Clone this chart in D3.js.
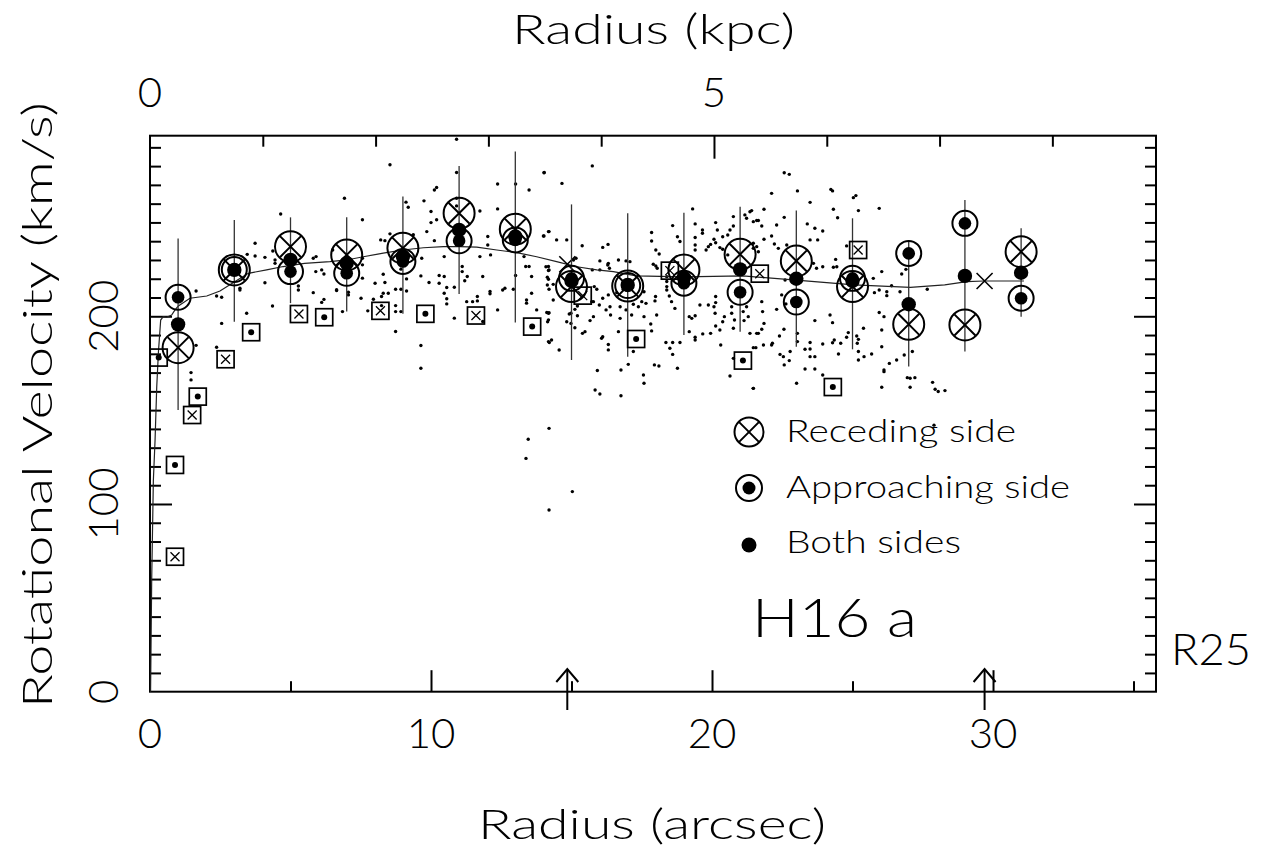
<!DOCTYPE html>
<html>
<head>
<meta charset="utf-8">
<script src="https://cdn.jsdelivr.net/npm/d3@7"></script>
<style>
  body { margin: 0; background: #fff; }
  svg text { font-family: "Lato", "DejaVu Sans", sans-serif; font-weight: 300; fill: #000; }
</style>
</head>
<body>
<svg id="chart" width="1270" height="856"></svg>
<script>
// binned points, every 2 arcsec
const binRadius = [1, 3, 5, 7, 9, 11, 13, 15, 17, 19, 21, 23, 25, 27, 29, 31];
const recedingVel = [183.3, 224.7, 237.1, 232.7, 236.3, 254.9, 246.4, 215.8, 216.1, 224.7, 233.0, 229.5, 215.8, 195.7, 195.4, 234.4];
const approachingVel = [210.1, 224.9, 223.8, 222.9, 229.2, 240.2, 240.7, 220.2, 216.4, 217.6, 212.8, 207.6, 220.2, 233.5, 249.5, 209.6];
const bothVel = [195.7, 224.7, 230.0, 228.3, 231.8, 246.0, 242.5, 218.8, 216.7, 220.6, 225.0, 220.0, 218.8, 206.4, 221.5, 223.2];
const errTop = [241.5, 251.3, 252.7, 252.8, 263.8, 280.1, 287.8, 259.6, 254.9, 255.2, 258.4, 256.3, 252.2, 239.8, 262.0, 246.9];
const errBottom = [150.1, 197.1, 207.0, 202.5, 201.3, 211.9, 196.7, 176.7, 178.5, 190.0, 191.8, 183.8, 182.4, 173.2, 181.2, 199.8];

// boxed points (other dataset)
const boxDot = [[0.31, 178], [0.89, 120.8], [1.7, 157.2], [3.6, 191.5], [6.2, 199.5], [9.8, 201.3],
    [13.6, 194.5], [17.3, 187.9], [21.1, 176.4], [24.3, 162.3]];
const boxCross = [[0.89, 71.9], [1.5, 147.4], [2.69, 177.1], [5.3, 201.2], [8.2, 202.9], [11.6, 200.4],
    [15.4, 211], [18.5, 224.3], [21.7, 222.7], [25.2, 235.3]];

// model curve
const curveR = [0.02, 0.06, 0.12, 0.18, 0.24, 0.30, 0.38, 0.47, 0.59, 0.77, 0.89, 1.01, 1.42, 2.02, 2.49, 2.97,
    3.5, 4.15, 4.74, 5.5, 6.4, 7.0, 7.59, 8.3, 9.0, 9.73, 10.44, 11.03, 11.63, 12.34, 13.05, 13.76, 14.47,
    15.19, 15.9, 16.49, 17.3, 19.0, 21.1, 23.0, 25.05, 27.06, 28.28, 29.07, 29.68, 31.1];
const curveV = [0, 59.5, 112.8, 134, 162.5, 181, 198, 199.8, 199.5, 200.7, 203.4, 205.5, 209.6, 210.8, 213.5, 218,
    222.9, 224.7, 226.5, 228.2, 229.1, 230, 231.7, 233.6, 235.3, 236.5, 237.1, 237.1, 236.8, 235.3, 233.9, 231.7, 229.1,
    226.4, 224.7, 223.8, 221.5, 221, 221.5, 219.3, 216.7, 215.4, 216.7, 218.5, 218.8, 218.8];

// 0.5 R25 and R25 (arcsec), marked with arrows + crosses on the curve
const markR = [14.85, 29.7];
const markV = [227.7, 218.8];

// individual measurements [r, v]
const rawPoints = [
    [3.74,238.9],[3.74,232.1],[3.46,233.0],[4.09,231.4],[4.37,234.8],[4.45,230.0],[4.45,228.2],[1.64,213.5],[2.37,210.8],
    [2.55,210.1],[3.2,214.9],[3.2,214.0],[4.09,217.9],[3.44,201.6],[2.55,196.2],[1.64,184.5],[2.37,183.5],[1.46,170.0],
    [1.46,166.1],[4.36,205.5],[5.28,214.0],[5.28,216.1],[5.81,212.6],[6.11,207.4],[6.19,209.0],[5.9,223.8],[6.11,224.7],
    [6.19,222.5],[5.81,230.9],[5.91,231.8],[6.64,213.7],[6.5,235.3],[4.65,254.5],
    [10.91,294.3],[8.54,280.7],[6.92,262.9],[7.56,251.4],[9.11,260.8],[9.19,258.1],[10.12,267.3],[10.2,268.6],[9.75,261.5],
    [10.0,255.8],[10.2,251.4],[10.0,249.9],[9.85,245.1],[10.91,276.6],[10.91,262.9],[10.91,258.8],[11.74,256.1],[12.37,270.5],
    [12.37,257.2],[13.01,270.5],[13.49,267.3],[14.03,276.6],[12.02,242.5],[12.02,238.0],[12.12,232.7],[11.74,231.8],
    [10.47,231.8],[10.12,240.3],[8.21,240.7],[8.36,240.3],[8.54,243.9],[9.37,243.4],[9.67,230.9],[7.56,230.9],[7.56,227.4],
    [7.56,220.3],[8.3,222.4],[8.01,217.6],[8.36,218.0],[8.93,225.1],[9.13,219.9],[9.64,221.5],[9.93,218.0],[8.93,214.4],
    [8.74,214.4],[9.13,213.5],[10.29,221.7],[10.47,221.2],[10.29,217.6],[10.56,215.3],[10.47,212.3],[10.56,209.3],
    [10.56,206.6],[10.83,215.5],[11.11,226.5],[11.11,223.8],[11.29,221.2],[11.2,218.9],[11.84,221.2],[11.27,207.8],
    [11.48,207.8],[11.65,210.5],[11.65,208.2],[12.1,213.2],[12.1,212.0],[12.37,203.4],[12.63,214.9],[12.55,214.0],
    [12.93,214.4],[13.01,221.7],[13.4,208.7],[13.4,207.0],[13.58,221.2],[13.58,212.3],[13.76,203.4],[13.37,226.5],
    [13.49,226.5],[13.31,231.8],[14.18,226.5],[14.18,224.4],[14.18,219.7],[14.0,242.8],[14.18,245.1],[14.12,202.0],
    [14.18,198.1],[14.18,186.5],[7.95,209.1],[8.24,210.5],[8.24,205.7],[8.3,212.3],[8.48,212.3],[7.75,202.9],[8.74,205.7],
    [8.74,202.5],[8.93,202.5],[8.74,191.9],[9.64,184.4],[9.64,172.3],[10.83,199.0],[11.84,197.2],[6.85,202.5],[6.64,214.1],
    [7.06,212.8],[7.06,211.4],[7.51,209.6],
    [15.74,280.1],[14.02,276.5],[14.66,270.8],[14.02,242.8],[14.2,245.1],[14.47,240.7],[14.83,240.7],[15.38,237.6],
    [16.11,236.7],[16.3,238.3],[15.16,230.9],[15.07,230.0],[16.01,229.5],[16.31,228.2],[16.67,230.0],[16.94,229.5],
    [17.08,229.1],[15.74,224.7],[16.01,224.7],[16.29,227.3],[16.35,225.6],[17.85,244.6],[17.85,240.1],[18.0,235.3],
    [18.12,233.2],[17.91,227.7],[18.05,225.6],[18.0,226.8],[18.6,248.3],[18.77,242.4],[18.86,239.8],[19.31,257.2],
    [19.4,249.2],[19.66,246.0],[19.66,244.2],[19.4,242.0],[19.4,238.0],[19.4,235.3],[19.79,235.3],[19.87,237.1],
    [19.95,238.3],[20.13,249.9],[20.19,246.0],[20.07,241.0],[20.13,239.2],[20.38,242.4],[20.56,243.3],[20.28,236.6],
    [20.38,235.7],[20.64,246.0],[20.76,253.1],[20.76,248.1],[21.17,254.0],[21.35,255.7],[21.23,252.2],[21.47,250.4],
    [21.59,251.0],[21.47,238.9],[21.47,236.2],[20.56,232.7],[14.09,226.4],[14.2,224.7],[14.14,220.8],[14.35,217.0],
    [14.14,216.7],[14.2,214.4],[14.35,208.7],[14.2,201.9],[14.15,197.1],[14.83,197.1],[14.98,196.2],[15.12,193.9],
    [15.39,190.9],[15.48,191.8],[15.21,200.3],[14.98,201.6],[15.66,197.7],[15.78,199.8],[15.81,215.8],[15.9,214.4],
    [15.78,207.8],[15.99,206.0],[16.11,209.6],[16.31,211.4],[16.37,205.1],[16.23,203.4],[16.39,200.7],[16.73,198.9],
    [16.61,212.6],[16.84,214.4],[16.73,205.1],[16.94,203.4],[17.14,200.7],[17.2,206.4],[17.38,205.1],[17.5,207.8],
    [17.65,206.9],[17.58,199.8],[17.85,192.2],[17.82,195.9],[17.99,210.5],[17.97,208.2],[18.03,200.7],[17.58,213.1],
    [18.39,221.1],[18.39,218.5],[18.39,215.8],[18.39,214.0],[18.48,210.8],[18.56,207.8],[18.68,204.2],[19.19,199.8],
    [19.28,198.9],[19.4,200.3],[19.19,191.8],[19.4,187.4],[19.4,188.8],[18.36,186.0],[18.6,186.0],[18.86,186.0],
    [18.5,183.0],[18.6,179.7],[18.77,172.3],[19.57,206.0],[19.87,206.0],[19.67,190.6],[19.95,190.9],[20.13,194.8],
    [20.28,192.7],[20.07,205.1],[20.11,201.6],[20.38,197.1],[20.44,199.8],[20.31,184.7],[20.13,210.5],[20.13,207.3],
    [20.7,201.6],[20.7,205.1],[20.8,198.0],[20.76,193.6],[21.11,202.5],[21.23,205.1],[21.29,199.8],[21.14,197.7],
    [21.35,190.9],[21.59,190.9],[20.76,177.6],[20.64,168.2],[21.47,161.6],[15.92,171.1],[16.76,171.4],[15.84,160.7],
    [16.01,158.6],[16.76,157.7],[17.02,174.4],[17.56,168.7],[17.58,164.3],[17.95,174.1],[18.11,173.5],[16.31,185.0],
    [16.31,182.1],[16.67,191.8],[17.2,181.2],[16.11,189.1],[16.07,188.3],[15.12,203.7],[15.21,205.5],[14.92,201.2],
    [15.72,207.8],[14.29,187.4],[14.21,186.0],[14.56,182.0],[14.18,201.6],
    [22.57,276.5],[22.75,275.6],[22.12,265.5],[23.04,266.8],[23.49,260.7],[24.23,267.6],[24.29,266.8],[24.32,257.0],
    [24.47,252.5],[25.03,263.2],[25.12,264.3],[25.21,256.3],[25.95,257.5],[21.41,256.3],[21.85,257.0],[21.65,251.0],
    [21.77,248.1],[22.57,252.7],[22.3,248.6],[23.39,249.2],[23.66,246.9],[23.94,245.4],[23.49,240.7],[23.76,240.7],
    [21.85,241.0],[22.12,242.8],[22.22,238.5],[22.36,236.2],[21.59,237.1],[21.65,234.4],[22.66,238.0],[24.4,230.3],
    [24.32,226.1],[24.44,226.4],[23.94,226.4],[23.72,225.6],[23.61,228.2],[24.79,237.5],[25.74,220.2],[26.04,223.8],
    [25.95,214.0],[26.22,213.1],[26.22,211.0],[25.78,212.6],[26.39,216.3],[26.75,222.5],[26.9,225.0],[26.69,213.1],
    [27.66,214.4],[22.6,219.3],[22.48,211.4],[22.3,203.7],[22.63,206.6],[21.77,207.8],[21.8,202.5],[21.85,196.2],
    [21.77,193.1],[21.65,190.9],[22.56,193.1],[22.4,189.5],[21.83,184.7],[22.15,185.6],[22.12,184.7],[21.47,183.3],
    [21.56,183.3],[22.42,179.7],[22.54,178.5],[22.78,181.2],[22.57,174.1],[22.75,176.4],[23.04,190.9],[23.04,186.5],
    [23.31,182.4],[23.49,186.0],[23.49,182.6],[23.49,178.5],[23.66,178.5],[23.31,171.9],[23.66,171.9],[23.94,185.2],
    [24.29,185.9],[24.35,187.4],[24.58,185.6],[24.85,191.3],[24.79,188.8],[25.15,189.5],[25.21,187.7],[25.17,185.6],
    [24.5,179.9],[25.21,181.2],[25.41,178.5],[25.21,176.7],[25.68,179.9],[25.39,193.6],[23.66,197.7],[24.2,200.7],
    [24.29,196.6],[26.04,192.7],[26.04,183.8],[25.95,202.0],[26.12,199.8],[26.31,174.9],[26.57,176.7],[26.84,179.4],
    [26.12,171.4],[26.12,170.5],[26.95,167.3],[27.05,167.0],[27.22,167.3],[27.05,162.2],[27.13,181.2],[27.85,164.8],
    [27.94,161.1],[28.05,159.9],[28.29,160.4],[26.04,162.2],[23.01,164.3],[23.94,168.7],[21.47,161.6],[27.9,142],
    [13.46,134.5],[14.2,140.3],[13.38,124.3],[15.03,106.6],[14.2,96.8]
];

const arcsecTicksMajor = [10, 20, 30];
const arcsecTicksMinor = [5, 15, 25, 35];
const arcsecLabels = [0, 10, 20, 30];
const kpcTicksMajor = [5];
const kpcTicksMinor = [1, 2, 3, 4, 6, 7, 8];
const kpcLabels = [0, 5];
const velTicksMajor = [100, 200];
const velTicksMinor = d3.range(10, 300, 10).filter(d => d % 100 !== 0);
const velLabels = [0, 100, 200];

const arcsecPerKpc = 4.014;

class rotationCurve {
    constructor(_config) {
        this.config = {
            parentElement: _config.parentElement,
            left: 150, right: 1156, top: 135.7, bottom: 691.7,
            xMax: 35.8, yMax: 296.2
        };
        this.initVis();
    }

    initVis() {
        let vis = this;
        const c = vis.config;

        vis.svg = d3.select(c.parentElement);

        vis.xScale = d3.scaleLinear().domain([0, c.xMax]).range([c.left, c.right]);
        vis.kpcScale = d3.scaleLinear().domain([0, c.xMax / arcsecPerKpc]).range([c.left, c.right]);
        vis.yScale = d3.scaleLinear().domain([0, c.yMax]).range([c.bottom, c.top]);

        vis.drawAxes();
        vis.renderVis();
        vis.drawLegend();
    }

    drawAxes() {
        let vis = this;
        const c = vis.config;
        const tickStroke = g => g.call(g => g.select('.domain').remove())
            .selectAll('line').attr('stroke', '#000').attr('stroke-width', 2);

        // bottom, ticks pointing in
        const addX = (scale, vals, size, y, axisFn) => vis.svg.append('g')
            .attr('transform', `translate(0,${y})`)
            .call(axisFn(scale).tickValues(vals).tickSize(size).tickFormat(''))
            .call(tickStroke);

        addX(vis.xScale, arcsecTicksMinor, -10.5, c.bottom, d3.axisBottom);
        addX(vis.xScale, arcsecTicksMajor, -21.5, c.bottom, d3.axisBottom);
        addX(vis.kpcScale, kpcTicksMinor, -11, c.top, d3.axisTop);
        addX(vis.kpcScale, kpcTicksMajor, -23, c.top, d3.axisTop);

        const addY = (vals, size, x, axisFn) => vis.svg.append('g')
            .attr('transform', `translate(${x},0)`)
            .call(axisFn(vis.yScale).tickValues(vals).tickSize(size).tickFormat(''))
            .call(tickStroke);

        addY(velTicksMinor, -11, c.left, d3.axisLeft);
        addY(velTicksMajor, -22, c.left, d3.axisLeft);
        addY(velTicksMinor, -11, c.right, d3.axisRight);
        addY(velTicksMajor, -22, c.right, d3.axisRight);

        // frame
        vis.svg.append('rect')
            .attr('x', c.left).attr('y', c.top)
            .attr('width', c.right - c.left).attr('height', c.bottom - c.top)
            .attr('fill', 'none').attr('stroke', '#000').attr('stroke-width', 2);

        // tick labels
        vis.svg.selectAll('.xlab').data(arcsecLabels).join('text')
            .attr('x', d => vis.xScale(d)).attr('y', 748)
            .attr('text-anchor', 'middle').attr('font-size', 42)
            .text(d => d);

        vis.svg.selectAll('.klab').data(kpcLabels).join('text')
            .attr('x', d => vis.kpcScale(d)).attr('y', 107)
            .attr('text-anchor', 'middle').attr('font-size', 42)
            .text(d => d);

        vis.svg.selectAll('.ylab').data(velLabels).join('text')
            .attr('transform', d => `translate(118,${vis.yScale(d)}) rotate(-90)`)
            .attr('text-anchor', 'middle').attr('font-size', 42)
            .text(d => d);

        // titles
        vis.svg.append('text')
            .attr('x', 512).attr('y', 44).attr('font-size', 42)
            .attr('textLength', 283).attr('lengthAdjust', 'spacingAndGlyphs')
            .text('Radius (kpc)');

        vis.svg.append('text')
            .attr('x', 478).attr('y', 839).attr('font-size', 42)
            .attr('textLength', 348).attr('lengthAdjust', 'spacingAndGlyphs')
            .text('Radius (arcsec)');

        vis.svg.append('text')
            .attr('transform', 'translate(52,708) rotate(-90)')
            .attr('font-size', 42)
            .attr('textLength', 606).attr('lengthAdjust', 'spacingAndGlyphs')
            .text('Rotational Velocity (km/s)');

        // arrows at 0.5 R25 and R25
        const arrows = vis.svg.selectAll('.arrow').data(markR).join('g')
            .attr('transform', d => `translate(${vis.xScale(d)},0)`)
            .attr('stroke', '#000').attr('stroke-width', 2).attr('fill', 'none');
        arrows.append('line').attr('x1', 0).attr('x2', 0).attr('y1', 669).attr('y2', 710);
        arrows.append('polyline').attr('points', '-11,682 0,669 11,682');

        vis.svg.append('text')
            .attr('x', 1171).attr('y', 665).attr('font-size', 44)
            .attr('textLength', 80).attr('lengthAdjust', 'spacingAndGlyphs')
            .text('R25');

        vis.svg.append('text')
            .attr('x', 752).attr('y', 637).attr('font-size', 54)
            .attr('textLength', 165).attr('lengthAdjust', 'spacingAndGlyphs')
            .text('H16 a');
    }

    renderVis() {
        let vis = this;
        const x = vis.xScale, y = vis.yScale;

        // raw measurements
        vis.svg.append('g').selectAll('circle').data(rawPoints).join('circle')
            .attr('cx', d => x(d[0])).attr('cy', d => y(d[1]))
            .attr('r', 1.7).attr('fill', '#000');

        // model curve
        const line = d3.line().x(d => x(d[0])).y(d => y(d[1]));
        vis.svg.append('path')
            .datum(curveR.map((r, i) => [r, curveV[i]]))
            .attr('d', line)
            .attr('fill', 'none').attr('stroke', '#222').attr('stroke-width', 1.2);

        // crosses on the curve
        vis.svg.selectAll('.mark').data(markR).join('path')
            .attr('d', (d, i) => {
                const cx = x(d), cy = y(markV[i]), s = 8;
                return `M${cx - s},${cy - s}L${cx + s},${cy + s}M${cx - s},${cy + s}L${cx + s},${cy - s}`;
            })
            .attr('stroke', '#000').attr('stroke-width', 1.6);

        // error bars
        vis.svg.append('g').selectAll('line').data(binRadius).join('line')
            .attr('x1', d => x(d)).attr('x2', d => x(d))
            .attr('y1', (d, i) => y(errTop[i])).attr('y2', (d, i) => y(errBottom[i]))
            .attr('stroke', '#333').attr('stroke-width', 1.3);

        // boxed points
        const box = (data, inner) => {
            const g = vis.svg.append('g').selectAll('g').data(data).join('g')
                .attr('transform', d => `translate(${x(d[0])},${y(d[1])})`);
            g.append('rect').attr('x', -8.5).attr('y', -8.5).attr('width', 17).attr('height', 17)
                .attr('fill', 'none').attr('stroke', '#000').attr('stroke-width', 1.7);
            if (inner === 'dot')
                g.append('circle').attr('r', 3).attr('fill', '#000');
            else
                g.append('path').attr('d', 'M-4.5,-4.5L4.5,4.5M-4.5,4.5L4.5,-4.5')
                    .attr('stroke', '#000').attr('stroke-width', 1.3);
        };
        box(boxDot, 'dot');
        box(boxCross, 'cross');

        // receding side
        const rec = vis.svg.append('g').selectAll('g').data(binRadius).join('g')
            .attr('transform', (d, i) => `translate(${x(d)},${y(recedingVel[i])})`);
        vis.recedingSymbol(rec, 15.5);

        // approaching side
        const app = vis.svg.append('g').selectAll('g').data(binRadius).join('g')
            .attr('transform', (d, i) => `translate(${x(d)},${y(approachingVel[i])})`);
        vis.approachingSymbol(app, 12.5, 6.3);

        // both sides
        vis.svg.append('g').selectAll('circle').data(binRadius).join('circle')
            .attr('cx', d => x(d)).attr('cy', (d, i) => y(bothVel[i]))
            .attr('r', 7.2).attr('fill', '#000');
    }

    recedingSymbol(sel, R) {
        const s = R * 0.68;
        sel.append('circle').attr('r', R).attr('fill', 'none')
            .attr('stroke', '#000').attr('stroke-width', 2);
        sel.append('path').attr('d', `M${-s},${-s}L${s},${s}M${-s},${s}L${s},${-s}`)
            .attr('stroke', '#000').attr('stroke-width', 2);
    }

    approachingSymbol(sel, R, r) {
        sel.append('circle').attr('r', R).attr('fill', 'none')
            .attr('stroke', '#000').attr('stroke-width', 2);
        sel.append('circle').attr('r', r).attr('fill', '#000');
    }

    drawLegend() {
        let vis = this;
        const lx = 749;
        vis.recedingSymbol(vis.svg.append('g').attr('transform', `translate(${lx},432)`), 14.5);
        vis.approachingSymbol(vis.svg.append('g').attr('transform', `translate(${lx},488)`), 13, 6.5);
        vis.svg.append('circle').attr('cx', lx).attr('cy', 545).attr('r', 7.5).attr('fill', '#000');

        const items = [['Receding side', 442, 230], ['Approaching side', 498, 284], ['Both sides', 553, 175]];
        vis.svg.selectAll('.legtext').data(items).join('text')
            .attr('x', 786).attr('y', d => d[1]).attr('font-size', 31)
            .attr('textLength', d => d[2]).attr('lengthAdjust', 'spacingAndGlyphs')
            .text(d => d[0]);
    }
}

new rotationCurve({ parentElement: '#chart' });
</script>
</body>
</html>
